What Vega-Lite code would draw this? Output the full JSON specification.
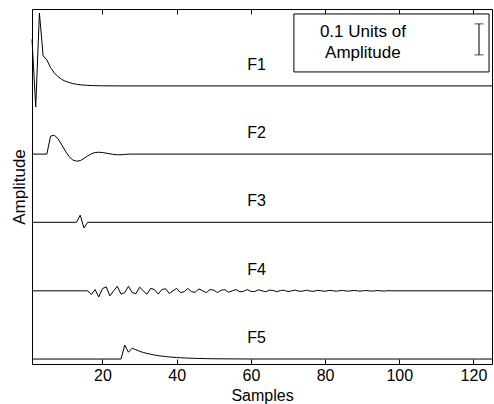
{
  "$schema": "https://vega.github.io/schema/vega-lite/v6.json",
  "width": 460,
  "height": 355,
  "autosize": {"type": "none"},
  "padding": {"left": 32, "top": 9, "right": 2, "bottom": 40},
  "background": "white",
  "config": {
    "view": {"stroke": "black", "strokeWidth": 1},
    "font": "Liberation Sans"
  },
  "datasets": {
    "traces": [
      {"t":"F1","s":1,"y":1.047},{"t":"F1","s":2,"y":0.829},{"t":"F1","s":3,"y":1.132},{"t":"F1","s":4,"y":0.994},{"t":"F1","s":5,"y":0.981},{"t":"F1","s":6,"y":0.956},{"t":"F1","s":7,"y":0.939},{"t":"F1","s":8,"y":0.927},{"t":"F1","s":9,"y":0.918},{"t":"F1","s":10,"y":0.912},{"t":"F1","s":11,"y":0.908},{"t":"F1","s":12,"y":0.9044},{"t":"F1","s":13,"y":0.9022},{"t":"F1","s":14,"y":0.9005},{"t":"F1","s":15,"y":0.8995},{"t":"F1","s":16,"y":0.8987},{"t":"F1","s":17,"y":0.8982},{"t":"F1","s":18,"y":0.8978},{"t":"F1","s":19,"y":0.8975},{"t":"F1","s":20,"y":0.8973},{"t":"F1","s":22,"y":0.8971},{"t":"F1","s":25,"y":0.897},{"t":"F1","s":125,"y":0.897},
      {"t":"F2","s":1,"y":0.677},{"t":"F2","s":5,"y":0.677},{"t":"F2","s":6,"y":0.735},{"t":"F2","s":7,"y":0.738},{"t":"F2","s":8,"y":0.727},{"t":"F2","s":9,"y":0.707},{"t":"F2","s":10,"y":0.687},{"t":"F2","s":11,"y":0.669},{"t":"F2","s":12,"y":0.658},{"t":"F2","s":13,"y":0.654},{"t":"F2","s":14,"y":0.656},{"t":"F2","s":15,"y":0.663},{"t":"F2","s":16,"y":0.671},{"t":"F2","s":17,"y":0.678},{"t":"F2","s":18,"y":0.682},{"t":"F2","s":19,"y":0.683},{"t":"F2","s":20,"y":0.682},{"t":"F2","s":21,"y":0.68},{"t":"F2","s":22,"y":0.678},{"t":"F2","s":23,"y":0.676},{"t":"F2","s":24,"y":0.675},{"t":"F2","s":25,"y":0.675},{"t":"F2","s":26,"y":0.676},{"t":"F2","s":27,"y":0.677},{"t":"F2","s":125,"y":0.677},
      {"t":"F3","s":1,"y":0.457},{"t":"F3","s":13,"y":0.457},{"t":"F3","s":14,"y":0.48},{"t":"F3","s":15,"y":0.439},{"t":"F3","s":16,"y":0.457},{"t":"F3","s":125,"y":0.457},
      {"t":"F4","s":1,"y":0.236},{"t":"F4","s":16,"y":0.236},{"t":"F4","s":17,"y":0.224},{"t":"F4","s":18,"y":0.24},{"t":"F4","s":19,"y":0.2162},{"t":"F4","s":20,"y":0.2433},{"t":"F4","s":21,"y":0.2489},{"t":"F4","s":22,"y":0.2198},{"t":"F4","s":23,"y":0.236},{"t":"F4","s":24,"y":0.251},{"t":"F4","s":25,"y":0.225},{"t":"F4","s":26,"y":0.2303},{"t":"F4","s":27,"y":0.2504},{"t":"F4","s":28,"y":0.2307},{"t":"F4","s":29,"y":0.2266},{"t":"F4","s":30,"y":0.2478},{"t":"F4","s":31,"y":0.236},{"t":"F4","s":32,"y":0.2251},{"t":"F4","s":33,"y":0.244},{"t":"F4","s":34,"y":0.2402},{"t":"F4","s":35,"y":0.2256},{"t":"F4","s":36,"y":0.2398},{"t":"F4","s":37,"y":0.2428},{"t":"F4","s":38,"y":0.2275},{"t":"F4","s":39,"y":0.236},{"t":"F4","s":40,"y":0.2439},{"t":"F4","s":41,"y":0.2302},{"t":"F4","s":42,"y":0.233},{"t":"F4","s":43,"y":0.2436},{"t":"F4","s":44,"y":0.2332},{"t":"F4","s":45,"y":0.2311},{"t":"F4","s":46,"y":0.2422},{"t":"F4","s":47,"y":0.236},{"t":"F4","s":48,"y":0.2303},{"t":"F4","s":49,"y":0.2402},{"t":"F4","s":50,"y":0.2382},{"t":"F4","s":51,"y":0.2305},{"t":"F4","s":52,"y":0.238},{"t":"F4","s":53,"y":0.2396},{"t":"F4","s":54,"y":0.2315},{"t":"F4","s":55,"y":0.236},{"t":"F4","s":56,"y":0.2402},{"t":"F4","s":57,"y":0.2329},{"t":"F4","s":58,"y":0.2344},{"t":"F4","s":59,"y":0.24},{"t":"F4","s":60,"y":0.2345},{"t":"F4","s":61,"y":0.2334},{"t":"F4","s":62,"y":0.2393},{"t":"F4","s":63,"y":0.236},{"t":"F4","s":64,"y":0.233},{"t":"F4","s":65,"y":0.2382},{"t":"F4","s":66,"y":0.2372},{"t":"F4","s":67,"y":0.2331},{"t":"F4","s":68,"y":0.2371},{"t":"F4","s":69,"y":0.2379},{"t":"F4","s":70,"y":0.2336},{"t":"F4","s":71,"y":0.236},{"t":"F4","s":72,"y":0.2382},{"t":"F4","s":73,"y":0.2344},{"t":"F4","s":74,"y":0.2352},{"t":"F4","s":75,"y":0.2381},{"t":"F4","s":76,"y":0.2352},{"t":"F4","s":77,"y":0.2346},{"t":"F4","s":78,"y":0.2377},{"t":"F4","s":79,"y":0.236},{"t":"F4","s":80,"y":0.2344},{"t":"F4","s":81,"y":0.2372},{"t":"F4","s":82,"y":0.2366},{"t":"F4","s":83,"y":0.2345},{"t":"F4","s":84,"y":0.2366},{"t":"F4","s":85,"y":0.237},{"t":"F4","s":86,"y":0.2348},{"t":"F4","s":87,"y":0.236},{"t":"F4","s":88,"y":0.2372},{"t":"F4","s":89,"y":0.2352},{"t":"F4","s":90,"y":0.2356},{"t":"F4","s":91,"y":0.2371},{"t":"F4","s":92,"y":0.2356},{"t":"F4","s":93,"y":0.2353},{"t":"F4","s":94,"y":0.2369},{"t":"F4","s":95,"y":0.236},{"t":"F4","s":96,"y":0.2352},{"t":"F4","s":97,"y":0.2366},{"t":"F4","s":98,"y":0.236},{"t":"F4","s":125,"y":0.236},
      {"t":"F5","s":1,"y":0.016},{"t":"F5","s":25,"y":0.016},{"t":"F5","s":26,"y":0.061},{"t":"F5","s":27,"y":0.038},{"t":"F5","s":28,"y":0.051},{"t":"F5","s":29,"y":0.046},{"t":"F5","s":30,"y":0.041},{"t":"F5","s":31,"y":0.037},{"t":"F5","s":32,"y":0.034},{"t":"F5","s":33,"y":0.0315},{"t":"F5","s":34,"y":0.029},{"t":"F5","s":35,"y":0.027},{"t":"F5","s":36,"y":0.0255},{"t":"F5","s":37,"y":0.024},{"t":"F5","s":38,"y":0.0228},{"t":"F5","s":39,"y":0.0218},{"t":"F5","s":40,"y":0.021},{"t":"F5","s":41,"y":0.0202},{"t":"F5","s":42,"y":0.0196},{"t":"F5","s":43,"y":0.019},{"t":"F5","s":44,"y":0.0186},{"t":"F5","s":45,"y":0.0182},{"t":"F5","s":46,"y":0.0178},{"t":"F5","s":48,"y":0.0173},{"t":"F5","s":50,"y":0.0169},{"t":"F5","s":55,"y":0.0164},{"t":"F5","s":60,"y":0.0161},{"t":"F5","s":125,"y":0.016}
    ],
    "labels": [
      {"t":"F1","s":59,"y":0.965},
      {"t":"F2","s":59,"y":0.745},
      {"t":"F3","s":59,"y":0.525},
      {"t":"F4","s":59,"y":0.304},
      {"t":"F5","s":59,"y":0.084}
    ],
    "box": [{"s":71.6,"s2":124.2,"y":0.942,"y2":1.129}],
    "boxtext": [
      {"s":90.2,"y":1.071,"text":"0.1 Units of"},
      {"s":90.2,"y":1.003,"text":"Amplitude"}
    ],
    "bar": [{"s":121.5,"y":0.997,"y2":1.097}],
    "caps": [{"s":121.5,"y":0.997},{"s":121.5,"y":1.097}]
  },
  "encoding": {
    "x": {"field":"s","type":"quantitative","scale":{"domain":[1,125],"nice":false,"zero":false},"axis":null},
    "y": {"field":"y","type":"quantitative","scale":{"domain":[0,1.145],"nice":false,"zero":false},
      "axis":{"title":"Amplitude","labels":false,"ticks":false,"grid":false,"domain":false,"titleFontSize":17,"titleFontWeight":"normal","titleColor":"black","titlePadding":4}}
  },
  "layer": [
    {
      "data": {"name":"traces"},
      "mark": {"type":"line","color":"black","strokeWidth":1},
      "encoding": {
        "x": {"field":"s","type":"quantitative","scale":{"domain":[1,125],"nice":false,"zero":false},
          "axis":{"orient":"bottom","values":[20,40,60,80,100,120],"title":"Samples","grid":false,"domain":false,"tickSize":-5,"tickColor":"black","labelColor":"black","labelFontSize":16,"labelPadding":8,"titleFontSize":16,"titleFontWeight":"normal","titleColor":"black","titlePadding":-2,"titleBaseline":"top","titleY":23}},
        "detail": {"field":"t","type":"nominal"}
      }
    },
    {
      "data": {"name":"labels"},
      "mark": {"type":"text","align":"left","baseline":"middle","fontSize":16,"color":"black"},
      "encoding": {
        "x": {"field":"s","type":"quantitative","scale":{"domain":[1,125],"nice":false,"zero":false},
          "axis":{"orient":"top","values":[20,40,60,80,100,120],"title":null,"labels":false,"grid":false,"domain":false,"tickSize":-5,"tickColor":"black"}},
        "text": {"field":"t","type":"nominal"}
      }
    },
    {
      "data": {"name":"box"},
      "mark": {"type":"rect","fill":"white","stroke":"black","strokeWidth":1},
      "encoding": {
        "x2": {"field":"s2"},
        "y2": {"field":"y2"}
      }
    },
    {
      "data": {"name":"boxtext"},
      "mark": {"type":"text","align":"center","baseline":"middle","fontSize":17,"color":"black"},
      "encoding": {"text": {"field":"text","type":"nominal"}}
    },
    {
      "data": {"name":"bar"},
      "mark": {"type":"rule","color":"black","strokeWidth":1},
      "encoding": {"y2": {"field":"y2"}}
    },
    {
      "data": {"name":"caps"},
      "mark": {"type":"tick","orient":"horizontal","color":"black","size":9,"thickness":1},
      "encoding": {}
    }
  ],
  "resolve": {"axis": {"x": "independent"}}
}
